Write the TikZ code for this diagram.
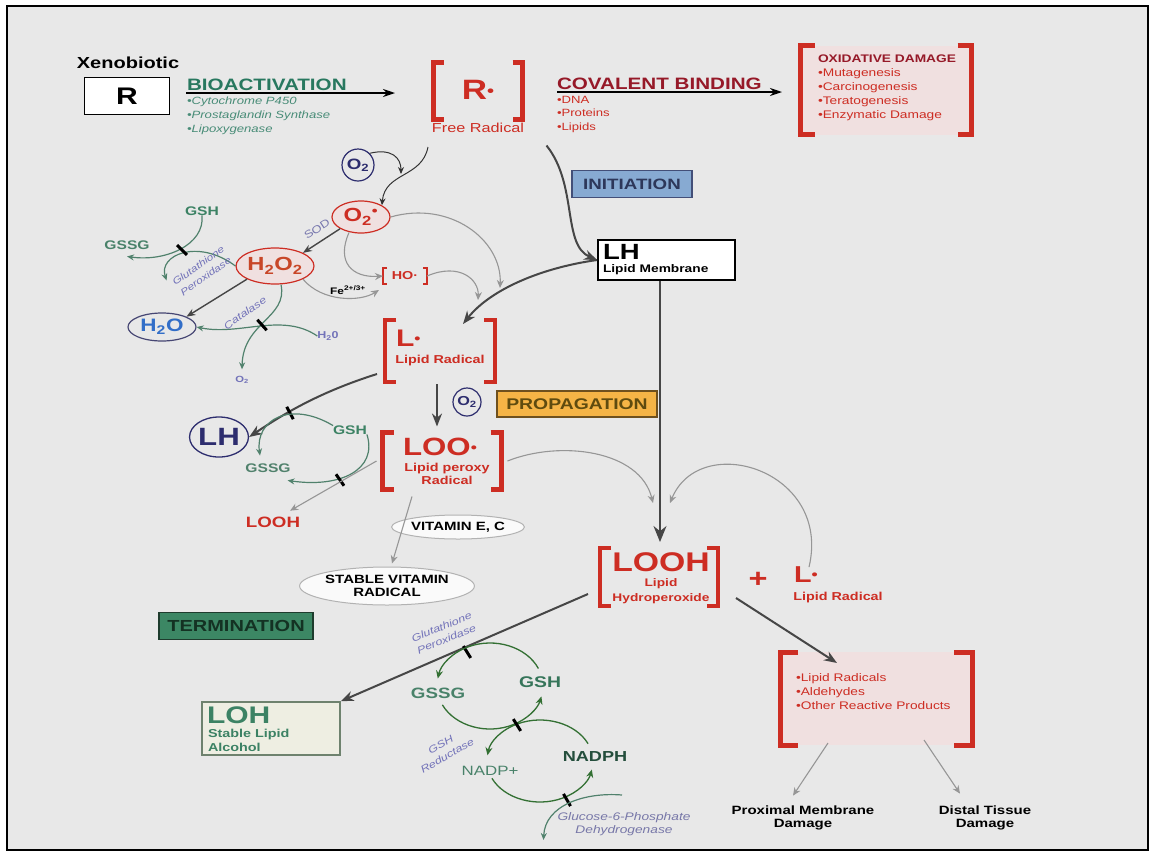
\documentclass[tikz,border=0pt]{standalone}
\usepackage{fontspec}
\setmainfont{Liberation Sans}[FakeStretch=1.25]
\usetikzlibrary{arrows.meta,calc,shapes.geometric}
\definecolor{bgc}{RGB}{232,232,232}
\definecolor{bioGreen}{RGB}{40,120,95}
\definecolor{radRed}{RGB}{205,45,35}
\definecolor{covRed}{RGB}{150,25,40}
\definecolor{enzBlue}{RGB}{115,115,185}
\definecolor{navy}{RGB}{45,45,110}
\definecolor{arrGray}{RGB}{70,70,70}
\definecolor{lightArr}{RGB}{150,150,150}
\definecolor{gshGreen}{RGB}{60,130,100}
\definecolor{initBlue}{RGB}{135,170,210}
\definecolor{propOrange}{RGB}{245,180,70}
\definecolor{termGreen}{RGB}{60,135,100}
\definecolor{pinkfill}{RGB}{240,224,224}
\definecolor{waterBlue}{RGB}{50,110,200}
\newcommand{\fsz}[2]{\fontsize{#1}{#2}\selectfont}
\newcommand{\rdot}[2]{\raisebox{#2}{\fsz{#1}{#1}•}}
\newcommand{\drawbrk}[3]{%
  \draw[draw=radRed, line width=#3] ($(#1.north west)+(#2,0)$) -- (#1.north west) -- (#1.south west) -- ($(#1.south west)+(#2,0)$);
  \draw[draw=radRed, line width=#3] ($(#1.north east)+(-#2,0)$) -- (#1.north east) -- (#1.south east) -- ($(#1.south east)+(-#2,0)$);}
\newcommand{\inhbar}[2]{\draw[line width=3pt, black] (#1) ++(#2:7) -- ++(#2:-14);}
\begin{document}
\begin{tikzpicture}[x=1pt,y=-1pt,
  lbl/.style={inner sep=0pt, outer sep=0pt},
  darr/.style={draw=arrGray, line width=2pt, -{Stealth[length=13pt,width=10pt]}},
  darrthin/.style={draw=arrGray, line width=1.4pt, -{Stealth[length=9pt,width=7pt]}},
  blackarr/.style={draw=black, line width=1.6pt, -{Stealth[length=12pt,width=8pt]}},
  thinblack/.style={draw=black!80, line width=1pt, -{Stealth[length=7pt,width=6pt]}},
  garr/.style={draw=lightArr, line width=1.1pt, -{Stealth[length=8pt,width=7pt]}},
  grarr/.style={draw=gshGreen!70!gray, line width=1.2pt, -{Stealth[length=7pt,width=6pt]}},
  cyc/.style={draw=black!60!green!60!gray, line width=1.3pt, -{Stealth[length=8pt,width=7pt,fill=gshGreen]}},
  phase/.style={draw, line width=1.5pt, inner sep=0pt, font=\bfseries\fsz{15}{16}},
  oval/.style={ellipse, draw=gray!60, fill=gray!4, line width=1pt, inner sep=0pt, font=\bfseries\fsz{12}{13.5}, align=center},
  enz/.style={lbl, text=enzBlue, font=\itshape\fsz{10}{13}, align=center}
]
\useasboundingbox (0,0) rectangle (1152,855);
\fill[white] (0,0) rectangle (1152,855);
\draw[line width=1.5pt, fill=bgc] (7,6) rectangle (1148,850);

% ---------- top row ----------
\node[lbl, font=\bfseries\fsz{16}{18}] (xeno) at (128,63) {Xenobiotic};
\node[draw, fill=white, line width=1.6pt, minimum width=85, minimum height=37, inner sep=0pt,
      font=\bfseries\fsz{24}{24}] (Rbox) at (127,96) {R};
\node[lbl, anchor=base west, text=bioGreen, font=\bfseries\fsz{16.5}{18}] (bio) at (187,90) {BIOACTIVATION};
\node[lbl, anchor=north west, text=bioGreen!85, font=\itshape\fsz{10.5}{14}, align=left] (bioList) at (187,97)
  {•Cytochrome P450\\•Prostaglandin Synthase\\•Lipoxygenase};
\coordinate (bioStart) at (186,93);
\coordinate (bioEnd) at (395,93);
\draw[blackarr] (bioStart) -- (bioEnd);

\node[lbl, minimum width=89, minimum height=57] (Rr) at (478,91) {};
\drawbrk{Rr}{10}{4.5pt}
\node[lbl, text=radRed, font=\bfseries\fsz{28}{28}] (Rdot) at (478,90) {R\rdot{16}{3.5pt}};
\node[lbl, text=radRed, font=\fsz{13}{16}] (freeRad) at (478,128) {Free Radical};

\node[lbl, anchor=base west, text=covRed, font=\bfseries\fsz{16.5}{19}] (cov) at (557,89) {COVALENT BINDING};
\node[lbl, anchor=north west, text=radRed, font=\fsz{10.5}{13.5}, align=left] (covList) at (557,96)
  {•DNA\\•Proteins\\•Lipids};
\coordinate (covStart) at (557,92);
\coordinate (covEnd) at (782,92);
\draw[blackarr] (covStart) -- (covEnd);

\node[lbl, fill=pinkfill, minimum width=171, minimum height=89] (oxd) at (886,90) {};
\drawbrk{oxd}{14}{5pt}
\node[lbl, anchor=north west, align=left, text=radRed, font=\fsz{11}{14}] (oxdText) at (818,55)
  {{\color{covRed}\bfseries\fsz{11}{14}OXIDATIVE DAMAGE}\\•Mutagenesis\\•Carcinogenesis\\•Teratogenesis\\•Enzymatic Damage};

% ---------- initiation ----------
\node[phase, draw=black!40!initBlue!60!navy, fill=initBlue, text={rgb,255:red,45;green,55;blue,90},
      minimum width=120, minimum height=27] (init) at (632,184) {INITIATION};
\node[draw, fill=white, line width=1.8pt, minimum width=137, minimum height=40, inner sep=0pt] (LHbox) at (666.5,260) {};
\node[lbl, anchor=west, font=\bfseries\fsz{22}{22}] (LHt) at (603,252) {LH};
\node[lbl, anchor=west, font=\bfseries\fsz{11}{12}] (LHsub) at (603,270) {Lipid Membrane};
\draw[darr] ($(Rr.south east)+(24,26)$) .. controls (578,185) and (562,245) .. (LHbox.west);

% ---------- lipid radical ----------
\node[lbl, minimum width=110, minimum height=62] (Lrad) at (440,351) {};
\drawbrk{Lrad}{11}{4.5pt}
\node[lbl, anchor=west, text=radRed, font=\bfseries\fsz{24}{24}] (Lt) at (396,338) {L\rdot{14}{3pt}};
\node[lbl, text=radRed, font=\bfseries\fsz{11.5}{12}] (Lsub) at (440,361) {Lipid Radical};
\draw[darr] (LHbox.west) .. controls (540,268) and (490,290) .. ($(Lrad.north)+(23,4)$);

% ---------- oxygen chemistry ----------
\node[circle, draw=navy, line width=1.2pt, minimum size=32, inner sep=0pt, text=navy,
      font=\bfseries\fsz{15}{15}] (O2a) at (358,165) {O\textsubscript{2}};
\node[ellipse, draw=radRed, fill=pinkfill, line width=1.2pt, minimum width=58, minimum height=32, inner sep=0pt,
      text=radRed, font=\bfseries\fsz{19}{19}] (O2r) at (361,217) {O\textsubscript{2}\textsuperscript{•}};
\node[ellipse, draw=radRed, fill=pinkfill, line width=1.2pt, minimum width=72, minimum height=36, inner sep=0pt,
      text={rgb,255:red,200;green,70;blue,40}, font=\bfseries\fsz{19}{19}] (H2O2) at (275,266) {H\textsubscript{2}O\textsubscript{2}};
\coordinate (Rdown) at (428,147);
\draw[thinblack] (Rdown) .. controls (422,178) and (385,172) .. (O2r.north east);
\coordinate (O2join) at (401,174);
\draw[thinblack] (O2a.north east) .. controls (392,148) and (401,158) .. (O2join);

\node[lbl, rotate=33, text=enzBlue!80!gray, font=\fsz{10.5}{12}] (sod) at (317,229) {SOD};
\draw[darrthin] (O2r.south west) -- (H2O2.north east);

\node[lbl, minimum width=44, minimum height=16, text=radRed, font=\bfseries\fsz{11.5}{12}] (HO) at (405,276) {HO·};
\drawbrk{HO}{4}{2pt}
\node[lbl, font=\bfseries\fsz{9.5}{10}] (Fe) at (348,290) {Fe\textsuperscript{2+/3+}};
\draw[garr] ($(O2r.south)+(-12,-1)$) .. controls (336,262) and (352,278) .. (HO.west);
\draw[garr] (H2O2.south east) .. controls (322,302) and (360,302) .. ($(HO.south west)+(-4,6)$);
\draw[garr] (O2r.east) .. controls (450,200) and (502,240) .. ($(Lrad.north east)+(5,-32)$);
\draw[garr] (HO.east) .. controls (460,262) and (479,280) .. ($(Lrad.north)+(38,-20)$);

% glutathione peroxidase (top left)
\node[lbl, text=gshGreen, font=\bfseries\fsz{12.5}{13}] (GSHa) at (202,211) {GSH};
\node[lbl, text=gshGreen!80!gray, font=\bfseries\fsz{12.5}{13}] (GSSGa) at (127,245) {GSSG};
\draw[grarr] (GSHa.south) .. controls (205,245) and (165,262) .. ($(GSSGa.south)+(0,7)$);
\draw[grarr] (H2O2.west) .. controls (198,238) and (158,255) .. ($(GSSGa.south east)+(17,31)$);
\inhbar{182,250}{45}
\node[enz, rotate=35, font=\itshape\fsz{9.5}{13}] (gpx1) at (202,271) {Glutathione\\Peroxidase};

% water / catalase
\node[ellipse, draw=navy!70!gray, line width=1.2pt, minimum width=68, minimum height=28, inner sep=0pt,
      text=waterBlue, font=\bfseries\fsz{18}{18}] (H2O) at (162,327) {H\textsubscript{2}O};
\draw[darrthin] (H2O2.south west) -- (H2O.north east);
\node[lbl, text=enzBlue, font=\bfseries\fsz{10}{10}] (H2Ob) at (328,336) {H\textsubscript{2}0};
\node[lbl, text=enzBlue, font=\bfseries\fsz{9}{9}] (O2b) at (242,380) {O\textsubscript{2}};
\draw[grarr] ($(H2O2.south)+(6,0)$) .. controls (288,318) and (243,322) .. ($(O2b.north)+(0,-7)$);
\draw[grarr] (H2Ob.west) .. controls (282,312) and (240,336) .. (H2O.east);
\inhbar{262,325}{48}
\node[enz, rotate=35] (cat) at (245,313) {Catalase};

% ---------- propagation ----------
\node[circle, draw=navy, line width=1.2pt, minimum size=28, inner sep=0pt, text=navy,
      font=\bfseries\fsz{13}{13}] (O2c) at (467,402) {O\textsubscript{2}};
\node[phase, draw={rgb,255:red,110;green,80;blue,30}, fill=propOrange, text={rgb,255:red,95;green,75;blue,15},
      minimum width=160, minimum height=26, font=\bfseries\fsz{15.5}{16}] (prop) at (577,404) {PROPAGATION};
\node[lbl, minimum width=119, minimum height=57] (LOOr) at (442,461) {};
\drawbrk{LOOr}{11}{4.5pt}
\node[lbl, text=radRed, font=\bfseries\fsz{25}{25}] (LOOt) at (440,447) {LOO\rdot{14}{3pt}};
\node[lbl, text=radRed, font=\bfseries\fsz{11.5}{12.5}, align=center] (LOOsub) at (447,474) {Lipid peroxy\\Radical};
\draw[darr] ($(Lrad.south)+(-3,2)$) -- ($(LOOr.north)+(-5,-6)$);

\node[ellipse, draw=navy, line width=1.3pt, minimum width=56, minimum height=40, inner sep=0pt, text=navy,
      font=\bfseries\fsz{25}{25}] (LHc) at (219,437) {LH};
\draw[darr] ($(Lrad.south west)+(-8,-8)$) .. controls (320,392) and (285,413) .. (LHc.east);
\inhbar{290,413}{62}
\node[lbl, text=gshGreen, font=\bfseries\fsz{12.5}{13}] (GSHb) at (350,430) {GSH};
\node[lbl, text=gshGreen!70!gray, font=\bfseries\fsz{12.5}{13}] (GSSGb) at (268,468) {GSSG};
\node[lbl, text=radRed, font=\bfseries\fsz{15}{15}] (LOOHb) at (273,522) {LOOH};
\draw[grarr] (GSHb.north west) .. controls (290,400) and (255,420) .. ($(GSSGb.north)+(-8,-8)$);
\draw[grarr] (GSHb.south east) .. controls (378,470) and (340,488) .. ($(GSSGb.south east)+(-3,8)$);
\inhbar{340,480}{55}
\draw[garr] ($(LOOr.west)+(-6,0)$) -- ($(LOOHb.north east)+(-10,-6)$);

\node[oval, minimum width=110, minimum height=24] (vit) at (458,527) {VITAMIN E, C};
\node[oval, minimum width=162, minimum height=38] (svr) at (387,586) {STABLE VITAMIN\\RADICAL};
\draw[garr] ($(LOOr.south)+(-30,7)$) -- ($(svr.north)+(5,-3)$);

% ---------- LOOH ----------
\node[lbl, minimum width=118, minimum height=58] (LOOHr) at (659,577) {};
\drawbrk{LOOHr}{11}{4.5pt}
\node[lbl, text=radRed, font=\bfseries\fsz{27}{27}] (LOOHt) at (661,562) {LOOH};
\node[lbl, text=radRed, font=\bfseries\fsz{11}{14.5}, align=center] (LOOHsub) at (661,591) {Lipid\\Hydroperoxide};
\draw[darr, -{Stealth[length=16pt,width=13pt]}] (LHbox.south -| 660,0) -- ($(LOOHr.north)+(1,-6)$);
\node[lbl, text=radRed, font=\bfseries\fsz{26}{26}] (plus) at (758,580) {+};
\node[lbl, text=radRed, font=\bfseries\fsz{23}{23}] (Lr2) at (806,575) {L\rdot{14}{3pt}};
\node[lbl, text=radRed, font=\bfseries\fsz{11.5}{12}] (Lr2sub) at (838,598) {Lipid Radical};
\draw[garr] ($(LOOr.east)+(6,0)$) .. controls (560,440) and (640,450) .. ($(LOOHr.north)+(-6,-45)$);
\draw[garr] ($(Lr2.north)+(3,0)$) .. controls (832,470) and (700,430) .. ($(LOOHr.north)+(11,-45)$);

% ---------- termination ----------
\node[phase, draw={rgb,255:red,30;green,60;blue,45}, fill=termGreen, text={rgb,255:red,20;green,50;blue,35},
      minimum width=154, minimum height=27, font=\bfseries\fsz{16}{16}] (term) at (236,626) {TERMINATION};
\node[draw={rgb,255:red,110;green,130;blue,110}, line width=1.5pt, fill={rgb,255:red,238;green,238;blue,226},
      minimum width=138, minimum height=53, inner sep=0pt] (LOH) at (271,728.5) {};
\node[lbl, anchor=west, text=gshGreen, font=\bfseries\fsz{24}{24}] (LOHt) at (207,715) {LOH};
\node[lbl, anchor=north west, text=gshGreen, font=\bfseries\fsz{11.5}{14}, align=left] (LOHsub) at (208,729) {Stable Lipid\\Alcohol};
\draw[darr] ($(LOOHr.south west)+(-12,-12)$) -- (LOH.north east);
\inhbar{467,652}{58}
\node[enz, rotate=22] (gpx2) at (444,633) {Glutathione\\Peroxidase};

% glutathione cycle
\node[lbl, text=gshGreen!80!gray, font=\bfseries\fsz{15}{15}] (GSSGc) at (438,693) {GSSG};
\node[lbl, text=gshGreen!90!black, font=\bfseries\fsz{15.5}{15}] (GSHc) at (540,682) {GSH};
\node[lbl, text=gshGreen!80!gray, font=\fsz{13.5}{14}] (NADP) at (490,771) {NADP+};
\node[lbl, text=gshGreen!60!black, font=\bfseries\fsz{14.5}{14}] (NADPH) at (595,757) {NADPH};
\coordinate (cU) at (490,686);
\coordinate (cL) at (540,761);
\draw[cyc] (cU) ++(-24:53 and 43) arc[start angle=-24, end angle=-170, x radius=53, y radius=43];
\draw[cyc] (cU) ++(154:53 and 43) arc[start angle=154, end angle=14, x radius=53, y radius=43];
\draw[cyc] (cL) ++(-25:53 and 41) arc[start angle=-25, end angle=-172, x radius=53, y radius=41];
\draw[cyc] (cL) ++(155:53 and 41) arc[start angle=155, end angle=12, x radius=53, y radius=41];
\inhbar{517,725}{58}
\inhbar{567,800}{60}
\node[enz, rotate=30] (gred) at (444,750) {GSH\\Reductase};
\node[lbl, text=enzBlue!70!gray, font=\itshape\fsz{11}{12.5}, align=center] (g6pd) at (624,824) {Glucose-6-Phosphate\\Dehydrogenase};
\coordinate (g6start) at (622,795);
\draw[grarr] (g6start) .. controls (585,792) and (545,805) .. ($(g6pd.west)+(-14,16)$);

% ---------- reactive products ----------
\node[lbl, fill=pinkfill, minimum width=192, minimum height=93] (RP) at (876,698.5) {};
\drawbrk{RP}{18}{5pt}
\node[lbl, anchor=north west, text=radRed, font=\fsz{11}{14}, align=left] (RPtext) at (796,674)
  {•Lipid Radicals\\•Aldehydes\\•Other Reactive Products};
\draw[darr] ($(LOOHr.south east)+(18,-8)$) -- ($(RP.north west)+(57,11)$);
\node[lbl, font=\bfseries\fsz{12}{13.5}, align=center] (prox) at (803,818) {Proximal Membrane\\Damage};
\node[lbl, font=\bfseries\fsz{12}{13.5}, align=center] (dist) at (985,818) {Distal Tissue\\Damage};
\draw[garr] ($(RP.south west)+(48,-2)$) -- ($(prox.north)+(-10,-10)$);
\draw[garr] ($(RP.south east)+(-48,-5)$) -- ($(dist.north)+(-25,-12)$);
\end{tikzpicture}
\end{document}
